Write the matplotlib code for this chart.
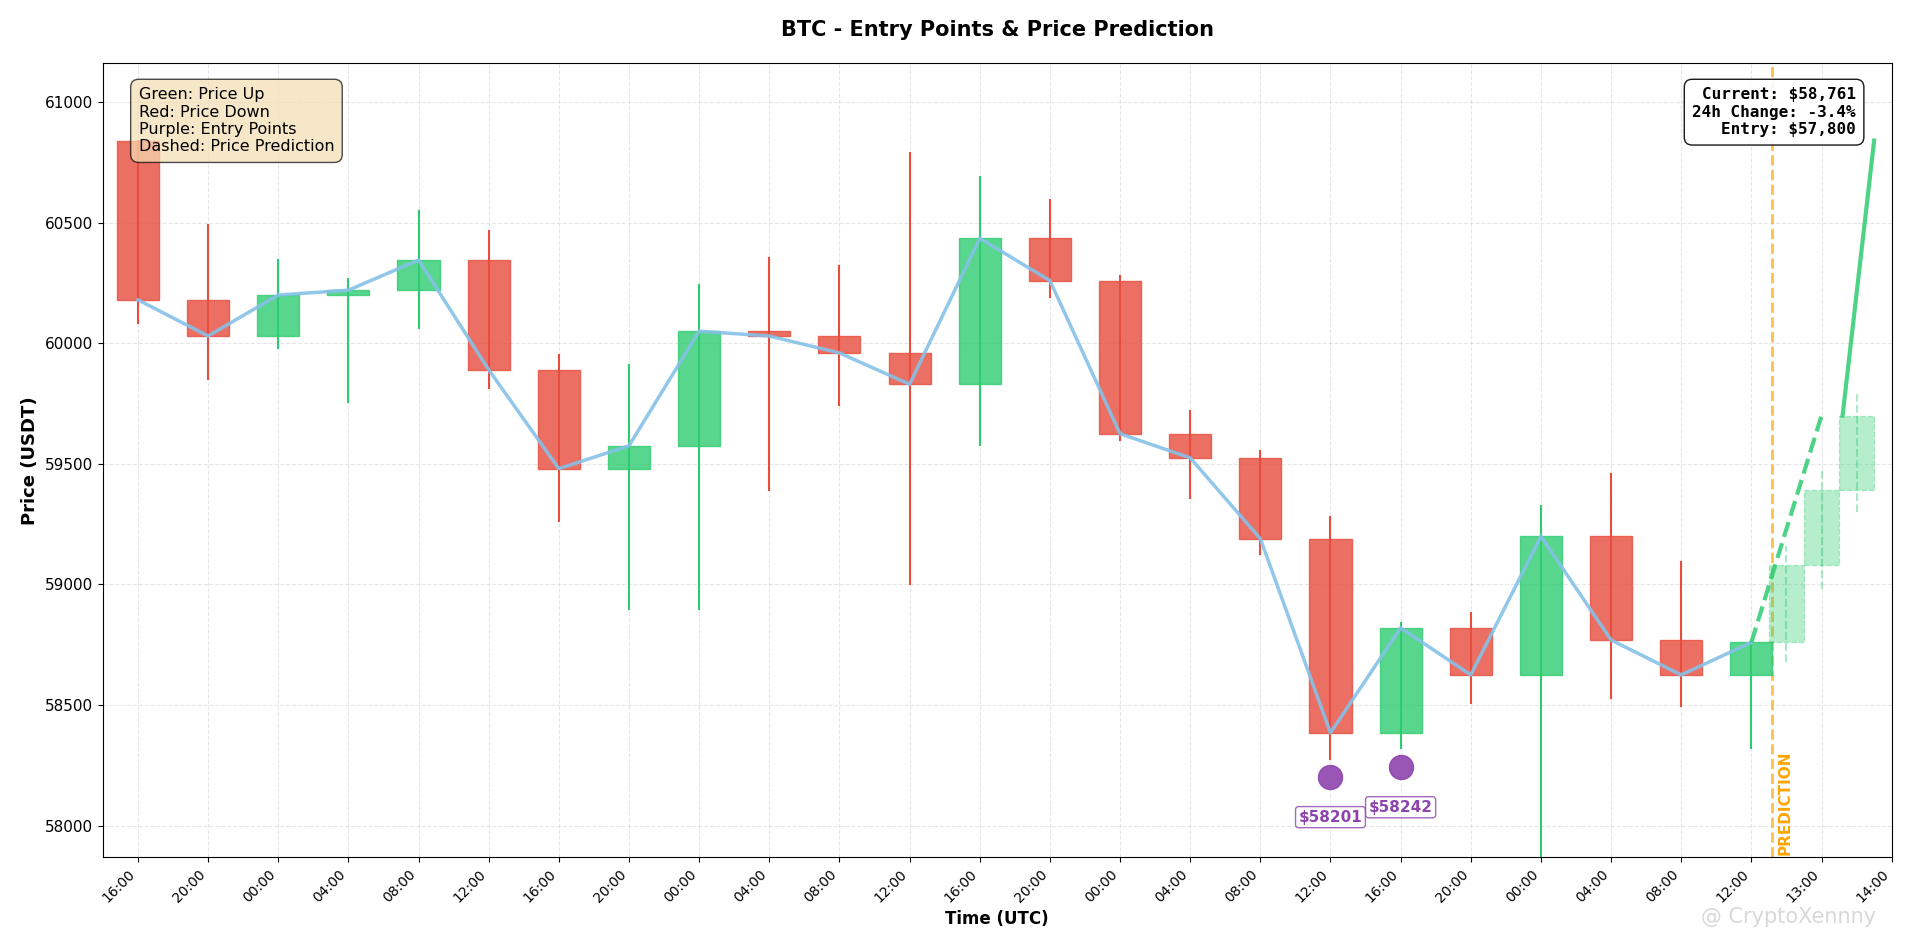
import matplotlib
matplotlib.use("Agg")
import matplotlib.pyplot as plt
from matplotlib.patches import Rectangle

times = ["16:00", "20:00", "00:00", "04:00", "08:00", "12:00", "16:00", "20:00",
         "00:00", "04:00", "08:00", "12:00", "16:00", "20:00", "00:00", "04:00",
         "08:00", "12:00", "16:00", "20:00", "00:00", "04:00", "08:00", "12:00",
         "13:00", "14:00"]
opens  = [60840, 60180, 60030, 60200, 60220, 60345, 59890, 59480, 59575, 60050, 60030, 59960,
          59830, 60435, 60260, 59625, 59525, 59190, 58385, 58820, 58625, 59200, 58770, 58625]
closes = [60180, 60030, 60200, 60220, 60345, 59890, 59480, 59575, 60050, 60030, 59960, 59830,
          60435, 60260, 59625, 59525, 59190, 58385, 58820, 58625, 59200, 58770, 58625, 58760]
highs  = [60840, 60490, 60345, 60265, 60550, 60465, 59950, 59910, 60240, 60355, 60320, 60790,
          60690, 60595, 60280, 59720, 59555, 59280, 58840, 58880, 59325, 59460, 59095, 58760]
lows   = [60085, 59850, 59980, 59755, 60065, 59815, 59265, 58900, 58900, 59390, 59745, 59000,
          59580, 60190, 59600, 59360, 59125, 58275, 58320, 58510, 57800, 58530, 58495, 58320]

pred_x = [23.5, 24.0, 24.5]
pred_open = [58760, 59080, 59390]
pred_close = [59080, 59390, 59700]
pred_high = [59160, 59470, 59790]
pred_low = [58680, 58980, 59300]

entry_x = [17, 18]
entry_y = [58201, 58242]

GREEN = "#2ecc71"
RED = "#e74c3c"

fig, ax = plt.subplots(figsize=(19.05, 9.47), dpi=100)

for i, (o, c, h, l) in enumerate(zip(opens, closes, highs, lows)):
    col = GREEN if c >= o else RED
    ax.plot([i, i], [l, h], color=col, lw=1.5, zorder=2)
    ax.add_patch(Rectangle((i - 0.3, min(o, c)), 0.6, max(abs(c - o), 15),
                           facecolor=col, edgecolor=col, alpha=0.8, zorder=3))

ax.plot(range(len(closes)), closes, color="#85c1e9", lw=2.5, alpha=0.9, zorder=4)

for x, o, c, h, l in zip(pred_x, pred_open, pred_close, pred_high, pred_low):
    ax.plot([x, x], [l, h], color=GREEN, lw=1.5, ls="--", alpha=0.4, zorder=2)
    ax.add_patch(Rectangle((x - 0.25, o), 0.5, c - o, facecolor=GREEN, edgecolor=GREEN,
                           ls="--", alpha=0.35, zorder=3))

ax.plot([23, 24], [closes[-1], 59700], color=GREEN, lw=3, ls="--", alpha=0.85, zorder=5)
ax.plot([24.3, 24.75], [59700, 60840], color=GREEN, lw=3, alpha=0.85, zorder=5)

ax.axvline(23.3, color="orange", ls="--", lw=2, alpha=0.7, zorder=1)
ax.text(23.48, 57880, "PREDICTION", rotation=90, color="orange", fontsize=11,
        fontweight="bold", va="bottom", ha="center")

ax.scatter(entry_x, entry_y, s=300, color="#8e44ad", zorder=6, alpha=0.9)
for x, y in zip(entry_x, entry_y):
    ax.annotate(f"${y}", (x, y), xytext=(0, -32), textcoords="offset points", ha="center",
                color="#8e44ad", fontsize=11, fontweight="bold",
                bbox=dict(boxstyle="round,pad=0.2", fc="white", ec="#8e44ad", alpha=0.8))

ax.text(0.02, 0.97, "Green: Price Up\nRed: Price Down\nPurple: Entry Points\nDashed: Price Prediction",
        transform=ax.transAxes, fontsize=11.5, va="top",
        bbox=dict(boxstyle="round,pad=0.5", fc="wheat", ec="black", alpha=0.7))
ax.text(0.98, 0.97, "Current: $58,761\n24h Change: -3.4%\nEntry: $57,800",
        transform=ax.transAxes, fontsize=11.5, va="top", ha="right", family="monospace",
        fontweight="bold", bbox=dict(boxstyle="round,pad=0.5", fc="white", ec="black", alpha=0.9))

ax.set_xlim(-0.5, 25)
ax.set_ylim(57870, 61160)
ax.set_xticks(range(len(times)))
ax.set_xticklabels(times, rotation=45, ha="right", fontsize=10)
ax.tick_params(axis="y", labelsize=11)
ax.grid(True, ls="--", alpha=0.3)
ax.set_xlabel("Time (UTC)", fontsize=12, fontweight="bold")
ax.set_ylabel("Price (USDT)", fontsize=13, fontweight="bold")
ax.set_title("BTC - Entry Points & Price Prediction", fontsize=15, fontweight="bold", pad=20)

fig.subplots_adjust(left=0.054, right=0.993, top=0.933, bottom=0.095)
fig.text(0.985, 0.025, "@ CryptoXennny", color="gray", alpha=0.3, fontsize=15, ha="right")

fig.savefig("out.png", dpi=100)
